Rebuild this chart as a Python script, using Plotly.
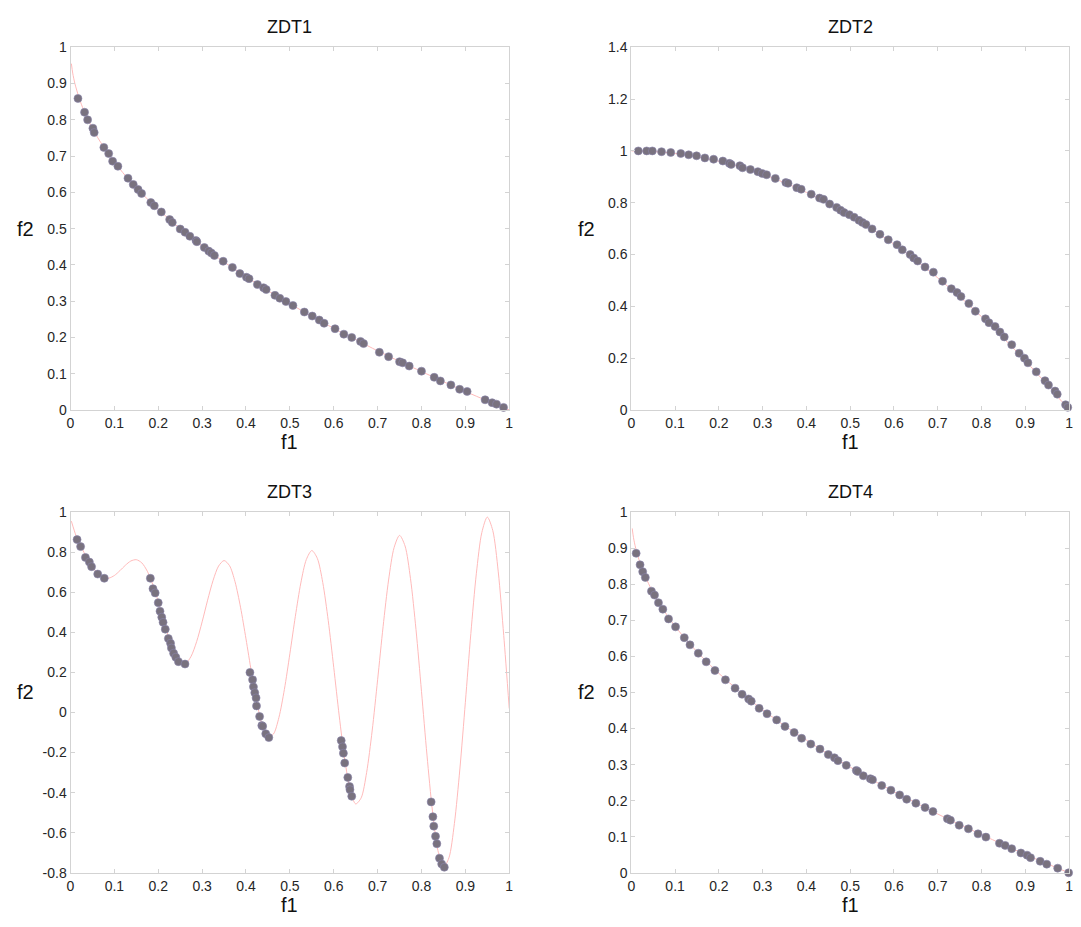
import plotly.graph_objects as go

# ---------------- data ----------------
titles = ["ZDT1", "ZDT2", "ZDT3", "ZDT4"]

# true Pareto fronts
front_convex_x = [0.002, 0.005, 0.01, 0.02, 0.03, 0.05, 0.075, 0.1, 0.125, 0.15, 0.175, 0.2, 0.25, 0.3,
                  0.35, 0.4, 0.45, 0.5, 0.55, 0.6, 0.65, 0.7, 0.75, 0.8, 0.85, 0.9, 0.95, 1.0]
front_convex_y = [0.955, 0.929, 0.9, 0.859, 0.827, 0.776, 0.726, 0.684, 0.646, 0.613, 0.582, 0.553, 0.5, 0.452,
                  0.408, 0.368, 0.329, 0.293, 0.258, 0.225, 0.194, 0.163, 0.134, 0.106, 0.078, 0.051, 0.025, 0.0]

front_concave_x = [0.0, 0.05, 0.1, 0.15, 0.2, 0.25, 0.3, 0.35, 0.4, 0.45, 0.5, 0.55, 0.6, 0.65, 0.7,
                   0.75, 0.8, 0.85, 0.9, 0.95, 1.0]
front_concave_y = [1.0, 0.9975, 0.99, 0.9775, 0.96, 0.9375, 0.91, 0.8775, 0.84, 0.7975, 0.75, 0.6975, 0.64,
                   0.5775, 0.51, 0.4375, 0.36, 0.2775, 0.19, 0.0975, 0.0]

front_disc_x = [0.002, 0.0125, 0.025, 0.0375, 0.05, 0.0625, 0.075, 0.0875, 0.1, 0.1125, 0.125, 0.1375, 0.15,
                0.1625, 0.175, 0.1875, 0.2, 0.2125, 0.225, 0.2375, 0.25, 0.2625, 0.275, 0.2875, 0.3, 0.3125,
                0.325, 0.3375, 0.35, 0.3625, 0.375, 0.3875, 0.4, 0.4125, 0.425, 0.4375, 0.45, 0.4625, 0.475,
                0.4875, 0.5, 0.5125, 0.525, 0.5375, 0.55, 0.5625, 0.575, 0.5875, 0.6, 0.6125, 0.625, 0.6375,
                0.65, 0.6625, 0.675, 0.6875, 0.7, 0.7125, 0.725, 0.7375, 0.75, 0.7625, 0.775, 0.7875, 0.8,
                0.8125, 0.825, 0.8375, 0.85, 0.8625, 0.875, 0.8875, 0.9, 0.9125, 0.925, 0.9375, 0.95, 0.9625,
                0.975, 0.9875, 1.0]
front_disc_y = [0.955, 0.8834, 0.8242, 0.7717, 0.7264, 0.6923, 0.6731, 0.6707, 0.6838, 0.7077, 0.7348, 0.7562,
                0.7627, 0.7470, 0.7054, 0.6388, 0.5528, 0.4577, 0.3666, 0.2933, 0.25, 0.2452, 0.2811, 0.3538,
                0.4523, 0.5606, 0.6597, 0.7309, 0.7584, 0.7328, 0.6528, 0.5258, 0.3675, 0.1998, 0.0476,
                -0.0656, -0.1208, -0.1074, -0.0251, 0.1152, 0.2929, 0.4802, 0.6466, 0.7635, 0.8084, 0.7697,
                0.6483, 0.4583, 0.2254, -0.0170, -0.2325, -0.3874, -0.4562, -0.4260, -0.2989, -0.0923, 0.1633,
                0.4286, 0.6612, 0.8226, 0.8840, 0.8313, 0.6677, 0.4140, 0.1056, -0.2123, -0.4917, -0.6890,
                -0.7720, -0.7256, -0.5541, -0.2818, 0.0513, 0.3940, 0.6923, 0.8980, 0.9753, 0.9082, 0.7020,
                0.3842, 0.02]

# obtained solutions (dots)
zdt1_f1 = [0.017, 0.032, 0.039, 0.051, 0.054, 0.076, 0.087, 0.096, 0.108, 0.131, 0.143, 0.154, 0.162, 0.183,
           0.191, 0.207, 0.226, 0.232, 0.250, 0.261, 0.272, 0.286, 0.288, 0.305, 0.315, 0.321, 0.328, 0.348,
           0.369, 0.386, 0.401, 0.407, 0.426, 0.440, 0.446, 0.466, 0.477, 0.491, 0.507, 0.533, 0.551, 0.567,
           0.578, 0.603, 0.623, 0.641, 0.661, 0.668, 0.704, 0.725, 0.750, 0.757, 0.772, 0.800, 0.829, 0.843,
           0.867, 0.887, 0.904, 0.945, 0.961, 0.971, 0.987]
zdt1_f2 = [0.859, 0.821, 0.800, 0.777, 0.765, 0.724, 0.707, 0.686, 0.672, 0.639, 0.622, 0.608, 0.597, 0.572,
           0.563, 0.546, 0.525, 0.517, 0.499, 0.490, 0.479, 0.467, 0.464, 0.448, 0.438, 0.433, 0.426, 0.410,
           0.393, 0.376, 0.366, 0.362, 0.346, 0.337, 0.332, 0.316, 0.308, 0.299, 0.288, 0.270, 0.259, 0.248,
           0.239, 0.224, 0.209, 0.200, 0.189, 0.183, 0.159, 0.147, 0.133, 0.130, 0.121, 0.107, 0.090, 0.080,
           0.069, 0.057, 0.051, 0.028, 0.020, 0.016, 0.007]

zdt2_f1 = [0.016, 0.035, 0.048, 0.069, 0.090, 0.113, 0.131, 0.149, 0.168, 0.188, 0.209, 0.224, 0.228, 0.248,
           0.254, 0.272, 0.289, 0.299, 0.309, 0.329, 0.353, 0.358, 0.378, 0.388, 0.411, 0.430, 0.439, 0.453,
           0.469, 0.478, 0.486, 0.498, 0.509, 0.520, 0.528, 0.536, 0.550, 0.568, 0.587, 0.607, 0.619, 0.637,
           0.645, 0.654, 0.671, 0.690, 0.711, 0.731, 0.744, 0.753, 0.771, 0.786, 0.809, 0.817, 0.831, 0.842,
           0.852, 0.869, 0.886, 0.898, 0.906, 0.925, 0.945, 0.953, 0.968, 0.973, 0.992, 0.997]
zdt2_f2 = [1.0, 1.0, 1.0, 0.997, 0.994, 0.990, 0.985, 0.981, 0.973, 0.968, 0.961, 0.952, 0.948, 0.943,
           0.935, 0.928, 0.920, 0.913, 0.908, 0.894, 0.878, 0.875, 0.858, 0.852, 0.833, 0.818, 0.813, 0.795,
           0.782, 0.771, 0.762, 0.754, 0.744, 0.732, 0.724, 0.716, 0.699, 0.678, 0.657, 0.638, 0.618, 0.600,
           0.587, 0.575, 0.552, 0.532, 0.497, 0.468, 0.453, 0.438, 0.411, 0.381, 0.352, 0.337, 0.322, 0.301,
           0.282, 0.252, 0.219, 0.200, 0.182, 0.147, 0.113, 0.096, 0.073, 0.061, 0.020, 0.010]

zdt3_f1 = [0.015, 0.023, 0.034, 0.043, 0.048, 0.062, 0.077,
           0.182, 0.188, 0.193, 0.200, 0.204, 0.208, 0.211, 0.216, 0.223, 0.228, 0.230, 0.235, 0.240, 0.246, 0.261,
           0.409, 0.415, 0.417, 0.420, 0.423, 0.424, 0.431, 0.436, 0.438, 0.445, 0.452,
           0.617, 0.620, 0.622, 0.625, 0.632, 0.636, 0.637, 0.641,
           0.822, 0.826, 0.828, 0.832, 0.835, 0.841, 0.846, 0.852]
zdt3_f2 = [0.863, 0.828, 0.774, 0.751, 0.728, 0.691, 0.670,
           0.670, 0.618, 0.597, 0.548, 0.506, 0.476, 0.450, 0.416, 0.369, 0.346, 0.322, 0.296, 0.276, 0.254, 0.242,
           0.200, 0.164, 0.128, 0.099, 0.073, 0.033, -0.020, -0.065, -0.068, -0.106, -0.125,
           -0.140, -0.171, -0.203, -0.252, -0.324, -0.369, -0.385, -0.418,
           -0.446, -0.520, -0.567, -0.618, -0.655, -0.727, -0.756, -0.772]

zdt4_f1 = [0.011, 0.020, 0.026, 0.032, 0.046, 0.053, 0.062, 0.072, 0.085, 0.101, 0.121, 0.134, 0.153, 0.171,
           0.191, 0.215, 0.237, 0.253, 0.268, 0.274, 0.292, 0.310, 0.332, 0.351, 0.372, 0.389, 0.410, 0.431,
           0.450, 0.464, 0.472, 0.491, 0.514, 0.517, 0.530, 0.546, 0.551, 0.572, 0.593, 0.613, 0.629, 0.650,
           0.671, 0.689, 0.722, 0.729, 0.749, 0.770, 0.792, 0.810, 0.841, 0.854, 0.869, 0.890, 0.904, 0.912,
           0.934, 0.949, 0.974, 0.999]
zdt4_f2 = [0.886, 0.854, 0.835, 0.819, 0.781, 0.770, 0.749, 0.731, 0.704, 0.682, 0.652, 0.632, 0.609, 0.585,
           0.561, 0.535, 0.512, 0.495, 0.482, 0.476, 0.456, 0.441, 0.424, 0.406, 0.389, 0.373, 0.357, 0.343,
           0.328, 0.319, 0.311, 0.298, 0.284, 0.281, 0.269, 0.261, 0.258, 0.242, 0.229, 0.216, 0.204, 0.193,
           0.181, 0.170, 0.150, 0.146, 0.132, 0.122, 0.108, 0.099, 0.082, 0.076, 0.067, 0.055, 0.049, 0.042,
           0.032, 0.024, 0.013, 0.000]

# tick labels
x_tickvals = [0, 0.1, 0.2, 0.3, 0.4, 0.5, 0.6, 0.7, 0.8, 0.9, 1]
x_ticktext = ["0", "0.1", "0.2", "0.3", "0.4", "0.5", "0.6", "0.7", "0.8", "0.9", "1"]
y_tickvals_unit = [0, 0.1, 0.2, 0.3, 0.4, 0.5, 0.6, 0.7, 0.8, 0.9, 1]
y_ticktext_unit = ["0", "0.1", "0.2", "0.3", "0.4", "0.5", "0.6", "0.7", "0.8", "0.9", "1"]
y_tickvals_zdt2 = [0, 0.2, 0.4, 0.6, 0.8, 1, 1.2, 1.4]
y_ticktext_zdt2 = ["0", "0.2", "0.4", "0.6", "0.8", "1", "1.2", "1.4"]
y_tickvals_zdt3 = [-0.8, -0.6, -0.4, -0.2, 0, 0.2, 0.4, 0.6, 0.8, 1]
y_ticktext_zdt3 = ["-0.8", "-0.6", "-0.4", "-0.2", "0", "0.2", "0.4", "0.6", "0.8", "1"]

# ---------------- figure ----------------
W, H = 1081, 927
FONT = "Liberation Sans, Arial, sans-serif"
LINE_COLOR = "#ffbaba"
DOT_COLOR = "#79727f"
DOT_EDGE = "#8985ad"
FRAME = "#d3d3d3"

panels = [
    dict(title=titles[0], fx=front_convex_x, fy=front_convex_y, px=zdt1_f1, py=zdt1_f2,
         yr=[0, 1], yv=y_tickvals_unit, yt=y_ticktext_unit,
         xd=[67 / W, 509 / W], yd=[1 - 409 / H, 1 - 40 / H]),
    dict(title=titles[1], fx=front_concave_x, fy=front_concave_y, px=zdt2_f1, py=zdt2_f2,
         yr=[0, 1.4], yv=y_tickvals_zdt2, yt=y_ticktext_zdt2,
         xd=[632 / W, 1073 / W], yd=[1 - 409 / H, 1 - 40 / H]),
    dict(title=titles[2], fx=front_disc_x, fy=front_disc_y, px=zdt3_f1, py=zdt3_f2,
         yr=[-0.8, 1], yv=y_tickvals_zdt3, yt=y_ticktext_zdt3,
         xd=[67 / W, 509 / W], yd=[1 - 880 / H, 1 - 513 / H]),
    dict(title=titles[3], fx=front_convex_x, fy=front_convex_y, px=zdt4_f1, py=zdt4_f2,
         yr=[0, 1], yv=y_tickvals_unit, yt=y_ticktext_unit,
         xd=[632 / W, 1073 / W], yd=[1 - 880 / H, 1 - 513 / H]),
]

fig = go.Figure()
layout = dict(
    width=W, height=H,
    margin=dict(l=0, r=0, t=0, b=0),
    paper_bgcolor="white", plot_bgcolor="white",
    showlegend=False,
    font=dict(family=FONT, color="#222222"),
    annotations=[],
)

tick_font = dict(family=FONT, size=14, color="#262626")
for i, p in enumerate(panels):
    n = "" if i == 0 else str(i + 1)
    xa, ya = "x" + n, "y" + n
    fig.add_trace(go.Scatter(x=p["fx"], y=p["fy"], mode="lines", xaxis=xa, yaxis=ya,
                             line=dict(color=LINE_COLOR, width=1, shape="spline", smoothing=0.8),
                             hoverinfo="skip"))
    fig.add_trace(go.Scatter(x=p["px"], y=p["py"], mode="markers", xaxis=xa, yaxis=ya,
                             cliponaxis=False,
                             marker=dict(size=8, color=DOT_COLOR, line=dict(color=DOT_EDGE, width=0.6))))
    axis_common = dict(showline=True, mirror="ticks", linecolor=FRAME, linewidth=1,
                       ticks="inside", ticklen=4, tickcolor=FRAME, tickwidth=1,
                       showgrid=False, zeroline=False, tickfont=tick_font, tickmode="array")
    layout["xaxis" + n] = dict(axis_common, domain=p["xd"], range=[0, 1], anchor=ya,
                               tickvals=x_tickvals, ticktext=x_ticktext)
    layout["yaxis" + n] = dict(axis_common, domain=p["yd"], range=p["yr"], anchor=xa,
                               tickvals=p["yv"], ticktext=p["yt"])
    layout["annotations"] += [
        dict(text=p["title"], xref=xa + " domain", yref=ya + " domain", x=0.5, y=1,
             xanchor="center", yanchor="middle", yshift=20, showarrow=False,
             font=dict(family=FONT, size=18, color="#111111")),
        dict(text="f1", xref=xa + " domain", yref=ya + " domain", x=0.5, y=0,
             xanchor="center", yanchor="middle", yshift=-32, showarrow=False,
             font=dict(family=FONT, size=20, color="#111111")),
        dict(text="f2", xref=xa + " domain", yref=ya + " domain", x=0, y=0.5,
             xanchor="center", yanchor="middle", xshift=-45, showarrow=False,
             font=dict(family=FONT, size=20, color="#111111")),
    ]

fig.update_layout(**layout)
fig.write_html("out.html")
